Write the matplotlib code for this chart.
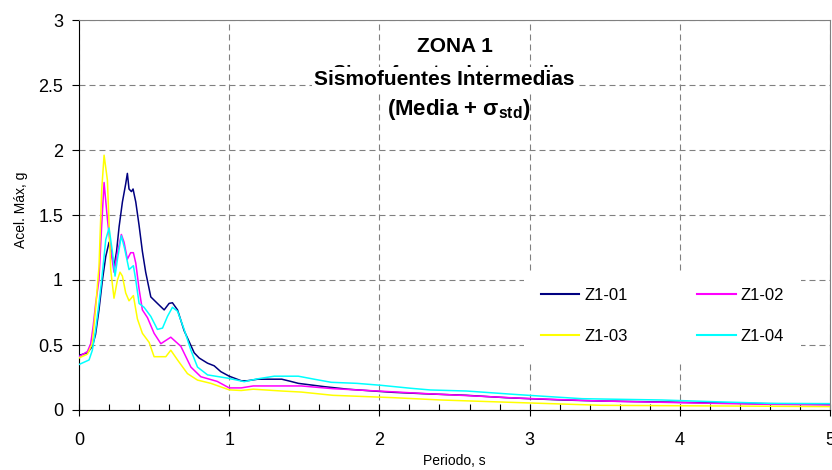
import matplotlib
matplotlib.use('Agg')
from matplotlib import pyplot as plt
from matplotlib.ticker import MultipleLocator

plt.rcParams['font.family'] = ['Liberation Sans', 'DejaVu Sans']
plt.rcParams['mathtext.fontset'] = 'custom'
plt.rcParams['mathtext.rm'] = 'Liberation Sans:bold'
plt.rcParams['mathtext.it'] = 'Liberation Sans:bold'
plt.rcParams['mathtext.bf'] = 'Liberation Sans:bold'
plt.rcParams['mathtext.default'] = 'regular'

# values (period in s, acceleration in g)
names = ['Z1-01', 'Z1-02', 'Z1-03', 'Z1-04']
colors = ['#000080', '#FF00FF', '#FFFF00', '#00FFFF']

t_z101 = [0, 0.056, 0.089, 0.11, 0.133, 0.156, 0.178, 0.2, 0.215, 0.233, 0.25, 0.267,
          0.289, 0.311, 0.322, 0.333, 0.349, 0.36, 0.367, 0.378, 0.4, 0.422, 0.444,
          0.478, 0.522, 0.567, 0.6, 0.622, 0.656, 0.7, 0.767, 0.8, 0.856, 0.9, 0.944,
          1.0, 1.08, 1.12, 1.19, 1.35, 1.41, 1.46, 1.63, 1.79, 1.96, 2.09, 2.34, 2.58,
          2.84, 3.0, 3.22, 3.48, 3.75, 4.15, 4.56, 5.0]
a_z101 = [0.42, 0.44, 0.49, 0.58, 0.77, 1.0, 1.18, 1.29, 1.22, 1.10, 1.22, 1.41,
          1.60, 1.74, 1.82, 1.70, 1.68, 1.70, 1.66, 1.60, 1.42, 1.22, 1.06,
          0.87, 0.82, 0.77, 0.82, 0.825, 0.77, 0.61, 0.44, 0.40, 0.36, 0.34, 0.295,
          0.26, 0.225, 0.225, 0.237, 0.237, 0.22, 0.205, 0.18, 0.16, 0.146, 0.136, 0.123, 0.113,
          0.095, 0.087, 0.077, 0.069, 0.064, 0.056, 0.049, 0.044]

t_z102 = [0, 0.056, 0.078, 0.095, 0.111, 0.133, 0.15, 0.167, 0.189, 0.211, 0.233,
          0.256, 0.282, 0.3, 0.322, 0.344, 0.362, 0.378, 0.4, 0.422, 0.456, 0.5,
          0.545, 0.611, 0.678, 0.745, 0.811, 0.92, 1.0, 1.08, 1.16, 1.48, 1.69,
          1.99, 2.31, 2.63, 2.95, 3.48, 4.02, 4.55, 5.0]
a_z102 = [0.41, 0.45, 0.51, 0.65, 0.82, 1.0, 1.4, 1.75, 1.47, 1.24, 1.06,
          1.21, 1.35, 1.29, 1.16, 1.21, 1.21, 1.13, 0.93, 0.77, 0.71, 0.59,
          0.51, 0.56, 0.49, 0.33, 0.256, 0.22, 0.17, 0.17, 0.185, 0.185, 0.164,
          0.146, 0.126, 0.108, 0.09, 0.069, 0.056, 0.044, 0.038]

t_z103 = [0, 0.056, 0.089, 0.111, 0.122, 0.133, 0.151, 0.167, 0.189, 0.2, 0.211,
          0.233, 0.256, 0.273, 0.289, 0.311, 0.333, 0.362, 0.389, 0.422, 0.467,
          0.5, 0.578, 0.611, 0.656, 0.722, 0.789, 0.878, 1.0, 1.08, 1.16, 1.35,
          1.48, 1.69, 2.09, 2.41, 2.95, 3.48, 4.28, 5.0]
a_z103 = [0.40, 0.43, 0.51, 0.79, 0.95, 1.10, 1.69, 1.96, 1.77, 1.44, 1.08,
          0.86, 1.0, 1.06, 1.03, 0.90, 0.84, 0.88, 0.70, 0.59, 0.52,
          0.41, 0.41, 0.46, 0.385, 0.28, 0.23, 0.205, 0.155, 0.15, 0.16, 0.146,
          0.138, 0.113, 0.095, 0.077, 0.056, 0.036, 0.031, 0.026]

t_z104 = [0, 0.067, 0.089, 0.111, 0.133, 0.151, 0.178, 0.2, 0.222, 0.24, 0.256,
          0.282, 0.304, 0.333, 0.362, 0.378, 0.4, 0.433, 0.478, 0.522, 0.556,
          0.589, 0.622, 0.656, 0.7, 0.745, 0.789, 0.856, 0.99, 1.1, 1.19, 1.3,
          1.46, 1.57, 1.68, 1.85, 2.01, 2.21, 2.34, 2.58, 2.9, 3.06, 3.35, 3.88,
          4.28, 4.6, 5.0]
a_z104 = [0.35, 0.385, 0.46, 0.62, 0.82, 1.0, 1.31, 1.40, 1.22, 1.03, 1.16,
          1.34, 1.24, 1.08, 1.11, 1.0, 0.82, 0.79, 0.72, 0.62, 0.63,
          0.72, 0.79, 0.76, 0.62, 0.46, 0.33, 0.27, 0.245, 0.218, 0.24, 0.26,
          0.26, 0.236, 0.213, 0.205, 0.19, 0.167, 0.154, 0.146, 0.12, 0.108, 0.087, 0.077,
          0.062, 0.051, 0.049]

periods = [t_z101, t_z102, t_z103, t_z104]
accels = [a_z101, a_z102, a_z103, a_z104]

x_ticks = [0, 1, 2, 3, 4, 5]
y_ticks = [0, 0.5, 1, 1.5, 2, 2.5, 3]
y_tick_labels = ['0', '0.5', '1', '1.5', '2', '2.5', '3']

fig = plt.figure(figsize=(8.32, 4.70), dpi=100)
ax = fig.add_axes([79 / 832, 60 / 470, 751 / 832, 390 / 470])

lines = []
for t, a, name, c in zip(periods, accels, names, colors):
    ln, = ax.plot(t, a, color=c, lw=1.1, label=name, zorder=3)
    lines.append(ln)

ax.set_xlim(0, 5)
ax.set_ylim(0, 3)
ax.set_xticks(x_ticks)
ax.set_xticklabels([str(v) for v in x_ticks])
ax.set_yticks(y_ticks)
ax.set_yticklabels(y_tick_labels)
ax.xaxis.set_minor_locator(MultipleLocator(0.2))

# dashed grey grid like the excel chart
ax.grid(True, which='major', color='#808080', lw=0.8, linestyle=(0, (5.4, 3.6)))
ax.set_axisbelow(True)

ax.spines['left'].set_color('black')
ax.spines['bottom'].set_color('black')
ax.spines['top'].set_color('#808080')
ax.spines['right'].set_color('#808080')
for s in ax.spines.values():
    s.set_linewidth(0.8)

ax.tick_params(axis='x', which='major', direction='inout', length=8.6, width=0.8,
               labelsize=13, pad=11.3)
ax.tick_params(axis='x', which='minor', direction='in', length=4.3, width=0.8)
ax.tick_params(axis='y', which='major', direction='out', length=5, width=0.8,
               labelsize=13, pad=6.5)

ax.set_xlabel('Periodo, s', fontsize=10, va='center')
ax.xaxis.set_label_coords(0.5, -0.131)
ax.set_ylabel('Acel. Máx, g', fontsize=10, va='center')
ax.yaxis.set_label_coords(-0.077, 0.513)

# titles inside the plot area (the half hidden line is in the original too)
ax.text(0.5007, 0.919, 'ZONA 1', transform=ax.transAxes, ha='center', va='baseline',
        fontsize=15, fontweight='bold', zorder=6)
ax.text(0.5, 0.852, 'Sismofuentes Intermedias', transform=ax.transAxes, ha='center',
        va='baseline', fontsize=14, fontweight='bold', zorder=6)
ax.text(0.487, 0.833, 'Sismofuentes Intermedias', transform=ax.transAxes, ha='center',
        va='baseline', fontsize=15, fontweight='bold', zorder=7,
        bbox=dict(facecolor='white', edgecolor='none', pad=2))
ax.text(0.505, 0.756, '(Media + $σ_{std}$)', transform=ax.transAxes, ha='center',
        va='baseline', fontsize=16, fontweight='bold', zorder=6)

# legend: row 1 = Z1-01, Z1-02 ; row 2 = Z1-03, Z1-04
order = [0, 2, 1, 3]
leg = ax.legend([lines[i] for i in order], [names[i] for i in order], ncol=2,
                loc='center', bbox_to_anchor=(0.777, 0.241), fontsize=12,
                handlelength=2.3, handletextpad=0.3, columnspacing=4.2,
                labelspacing=1.55, borderpad=1.0, frameon=True, fancybox=False,
                facecolor='white', edgecolor='none', framealpha=1)
for h in leg.get_lines():
    h.set_linewidth(1.5)

plt.savefig('out.png', dpi=100)
